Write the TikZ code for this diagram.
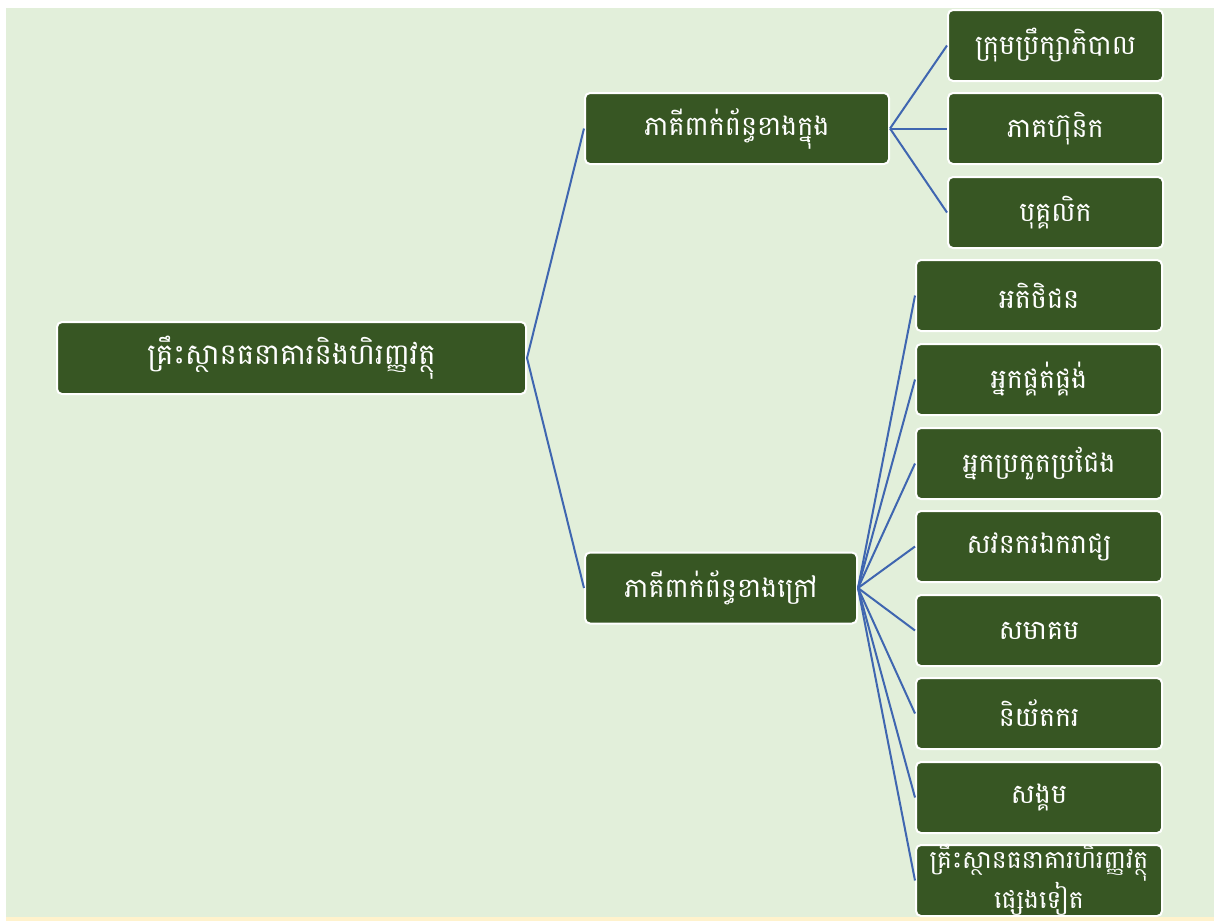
\documentclass[tikz,border=0pt]{standalone}
\usepackage{fontspec}
\newfontfamily\khmer[Script=Khmer]{Battambang}
\definecolor{bggreen}{HTML}{E2EFDA}
\definecolor{bgyellow}{HTML}{FFF2CC}
\definecolor{boxgreen}{HTML}{375623}
\definecolor{linkblue}{HTML}{3F66B0}
\tikzset{
  box/.style={draw=white, line width=2pt, fill=boxgreen, rounded corners=5pt, text=white, inner sep=0pt, align=center},
  rootbox/.style={box, minimum width=469pt, minimum height=72pt, font=\khmer\fontsize{29}{34}\selectfont},
  midbox/.style={box, minimum height=71pt, font=\khmer\fontsize{27}{32}\selectfont},
  leafbox/.style={box, minimum height=71pt, font=\khmer\fontsize{27}{32}\selectfont},
  link/.style={draw=linkblue, line width=2pt}
}
\begin{document}
\begin{tikzpicture}[x=1pt,y=-1pt]
\useasboundingbox (0,0) rectangle (1214,921);
\fill[white] (0,0) rectangle (1214,921);
\fill[bggreen] (6,8) rectangle (1214,917);
\fill[bgyellow] (6,917) rectangle (1214,921);

\node[rootbox] (root) at (291.5,358) {គ្រឹះស្ថានធនាគារនិងហិរញ្ញវត្ថុ};
\node[midbox, minimum width=304pt] (in) at (737,128.5) {ភាគីពាក់ព័ន្ធខាងក្នុង};
\node[midbox, minimum width=272pt] (ex) at (721,588) {ភាគីពាក់ព័ន្ធខាងក្រៅ};

\node[leafbox, minimum width=215pt] (i1) at (1055.5,45.5) {ក្រុមប្រឹក្សាភិបាល};
\node[leafbox, minimum width=215pt] (i2) at (1055.5,128.5) {ភាគហ៊ុនិក};
\node[leafbox, minimum width=215pt] (i3) at (1055.5,212.5) {បុគ្គលិក};

\node[leafbox, minimum width=246pt] (e1) at (1039,295.5) {អតិថិជន};
\node[leafbox, minimum width=246pt] (e2) at (1039,379.5) {អ្នកផ្គត់ផ្គង់};
\node[leafbox, minimum width=246pt] (e3) at (1039,463.5) {អ្នកប្រកួតប្រជែង};
\node[leafbox, minimum width=246pt] (e4) at (1039,546.5) {សវនករឯករាជ្យ};
\node[leafbox, minimum width=246pt] (e5) at (1039,630.5) {សមាគម};
\node[leafbox, minimum width=246pt] (e6) at (1039,713.5) {និយ័តករ};
\node[leafbox, minimum width=246pt] (e7) at (1039,797.5) {សង្គម};
\node[leafbox, minimum width=246pt, minimum height=71pt, text height=0pt, text depth=0pt] (e8) at (1039,880.5) {};
\node[text=white, inner sep=0pt, align=center, font=\khmer\fontsize{25}{29}\selectfont] (e8t) at (1039,879.5) {គ្រឹះស្ថានធនាគារហិរញ្ញវត្ថុ\\ផ្សេងទៀត};

\draw[link] (root.east) -- (in.west);
\draw[link] (root.east) -- (ex.west);
\foreach \n in {i1,i2,i3} \draw[link] (in.east) -- (\n.west);
\foreach \n in {e1,e2,e3,e4,e5,e6,e7,e8} \draw[link] (ex.east) -- (\n.west);
\end{tikzpicture}
\end{document}
